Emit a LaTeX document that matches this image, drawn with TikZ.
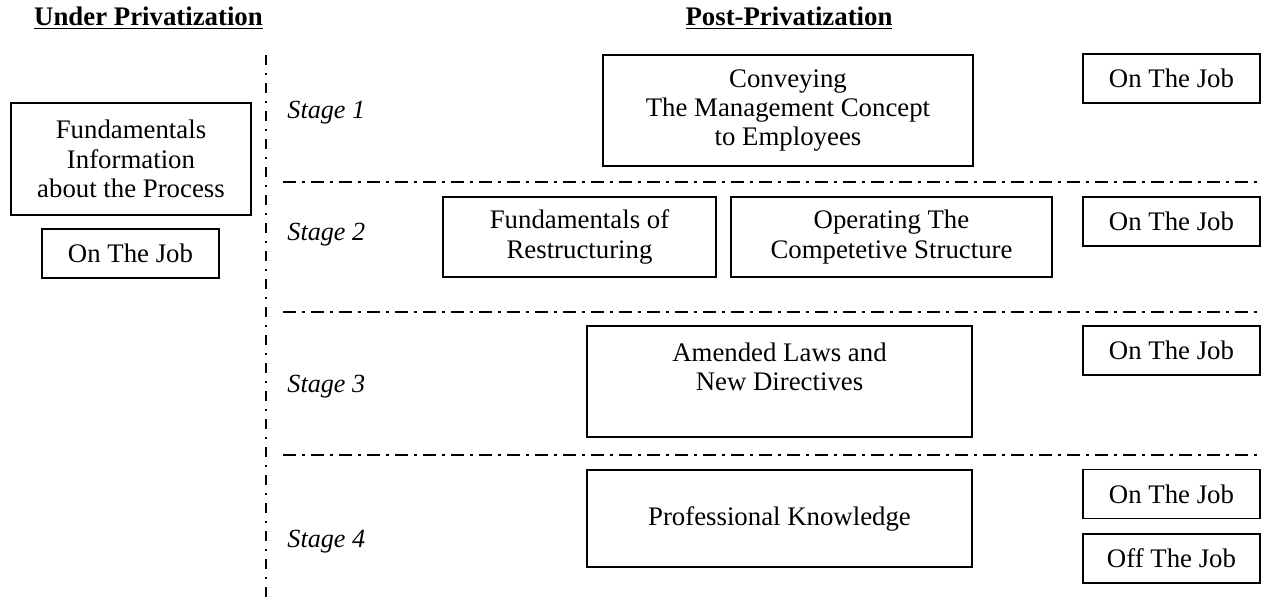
\documentclass[tikz,border=0pt]{standalone}
\usepackage{fontspec}
\setmainfont{Liberation Serif}
\usepackage{tikz}
\usetikzlibrary{calc}

\begin{document}
\begin{tikzpicture}[
    x=0.5pt, y=-0.5pt,
    every node/.style={color=black, font=\fontsize{13.4}{14.7}\selectfont},
    box/.style={draw, line width=0.9pt, align=center, inner sep=0pt},
    job box/.style={box, minimum width=88.5pt, minimum height=24.5pt},
    heading/.style={font=\fontsize{13.4}{14.7}\selectfont\bfseries},
    stage label/.style={anchor=west, inner sep=1pt, font=\fontsize{13.1}{14.7}\selectfont\itshape},
    divider/.style={line width=1pt, dash pattern=on 6.5pt off 3pt on 1.5pt off 3pt},
    separator/.style={line width=1.2pt, dash pattern=on 5pt off 4pt on 1pt off 4pt}
    ]
    \useasboundingbox (0,0) rectangle (1266,602);

    % headings
    \node[heading] (under) at (148.5,18) {\underline{Under Privatization}};
    \node[heading] (post) at (789,18) {\underline{Post-Privatization}};

    % dividing lines
    \coordinate (vtop) at (266,55);
    \coordinate (vbot) at (266,602);
    \draw[separator] (vtop) -- (vbot);
    \coordinate (h1a) at (283,182);
    \coordinate (h1b) at (1258,182);
    \coordinate (h2a) at (283,312);
    \coordinate (h2b) at (1258,312);
    \coordinate (h3a) at (283,455);
    \coordinate (h3b) at (1258,455);
    \draw[divider] (h1a) -- (h1b);
    \draw[divider] (h2a) -- (h2b);
    \draw[divider] (h3a) -- (h3b);

    % under privatization
    \node[box, minimum width=120pt, minimum height=56pt] (fund) at (131,159)
        {Fundamentals\\Information\\about the Process};
    \node[job box] (ojL) at (130.5,253.5) {On The Job};

    % stages
    \node[stage label] (s1) at (285,113) {Stage 1};
    \node[stage label] (s2) at (285,235) {Stage 2};
    \node[stage label] (s3) at (285,387) {Stage 3};
    \node[stage label] (s4) at (285,542) {Stage 4};

    % stage 1
    \node[box, minimum width=185pt, minimum height=55.5pt] (conv) at (788,110.5)
        {Conveying\\The Management Concept\\to Employees};
    \node[job box] (oj1) at (1171.5,78.5) {On The Job};

    % stage 2
    \node[box, minimum width=136.5pt, minimum height=40pt] (restr) at (579.5,237)
        {Fundamentals of\\Restructuring};
    \node[box, minimum width=160.5pt, minimum height=40pt] (oper) at (891.5,237)
        {Operating The\\Competetive Structure};
    \node[job box] (oj2) at (1171.5,221.5) {On The Job};

    % stage 3
    \node[box, minimum width=192.5pt, minimum height=55.5pt] (amend) at (779.5,381.5)
        {Amended Laws and\\New Directives\\\mbox{}};
    \node[job box] (oj3) at (1171.5,350.5) {On The Job};

    % stage 4
    \node[box, minimum width=192.5pt, minimum height=48.5pt] (prof) at (779.5,518.5)
        {Professional Knowledge};
    \node[job box] (oj4) at (1171.5,494) {On The Job};
    \node[job box] (off) at (1171.5,558.5) {Off The Job};

\end{tikzpicture}
\end{document}
